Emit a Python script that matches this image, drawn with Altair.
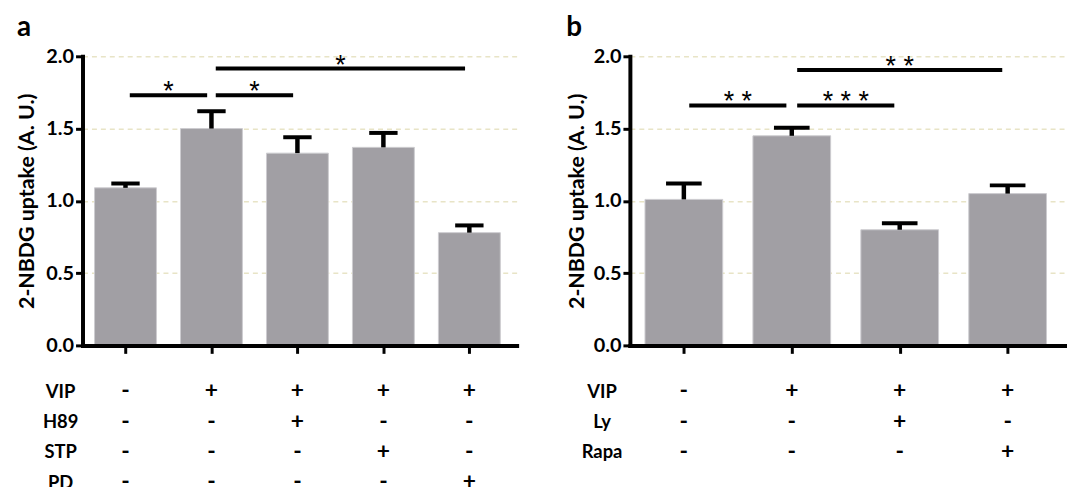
import altair as alt
import pandas as pd

FONT = "Lato"
STAR_FONT = "Liberation Sans"
BAR = "#a19fa4"

# ---------------- panel a ----------------
a_means = [1.09, 1.50, 1.33, 1.37, 0.78]
a_sem = [0.03, 0.12, 0.11, 0.10, 0.05]
a_rows = ["VIP", "H89", "STP", "PD"]
a_signs = [
    ["-", "+", "+", "+", "+"],
    ["-", "-", "+", "-", "-"],
    ["-", "-", "-", "+", "-"],
    ["-", "-", "-", "-", "+"],
]
a_cmp_from = [0, 1, 1]
a_cmp_to = [1, 2, 4]
a_cmp_level = [1.73, 1.73, 1.915]
a_cmp_label = ["*", "*", "*"]

# ---------------- panel b ----------------
b_means = [1.01, 1.45, 0.80, 1.05]
b_sem = [0.11, 0.055, 0.045, 0.057]
b_rows = ["VIP", "Ly", "Rapa"]
b_signs = [
    ["-", "+", "+", "+"],
    ["-", "-", "+", "-"],
    ["-", "-", "-", "+"],
]
b_cmp_from = [0, 1, 1]
b_cmp_to = [1, 2, 3]
b_cmp_level = [1.66, 1.66, 1.905]
b_cmp_label = ["**", "***", "**"]

Y_TICKS = [0, 0.5, 1.0, 1.5, 2.0]


def panel(tag, means, sem, rows, signs, cfrom, cto, clevel, clabel,
          width, height, row_pad, title_pad):
    n = len(means)
    xs = alt.Scale(domain=[-0.5, n - 0.45], nice=False, zero=False)
    ys = alt.Scale(domain=[0, 2], nice=False)
    xaxis = alt.Axis(values=list(range(n)), labels=False, tickSize=8, tickWidth=3,
                     tickColor="black", domainColor="black", domainWidth=4,
                     domainCap="square", grid=False, title=None, zindex=1)
    yaxis = alt.Axis(values=Y_TICKS, format=".1f", title="2-NBDG uptake (A. U.)",
                     titleFont=FONT, titleFontSize=21.5, titleFontWeight="bold",
                     titleColor="black", titlePadding=title_pad,
                     labelFont=FONT, labelFontSize=20, labelFontWeight="bold",
                     labelColor="black", labelPadding=2, tickSize=7, tickWidth=3,
                     tickColor="black", domainColor="black", domainWidth=4,
                     domainCap="square", grid=True, gridColor="#e8e4c6",
                     gridDash=[5, 4], gridWidth=1.5, zindex=0)

    df = pd.DataFrame({"pos": list(range(n)), "mean": means, "sem": sem})
    base = alt.Chart(df).transform_calculate(
        top="datum.mean + datum.sem",
        b1="datum.pos - 0.36", b2="datum.pos + 0.36",
        c1="datum.pos - 0.165", c2="datum.pos + 0.165", zero="0")

    bars = base.mark_bar(color=BAR, stroke="#cdccd0", strokeWidth=1).encode(
        x=alt.X("b1:Q", scale=xs, axis=xaxis), x2="b2:Q",
        y=alt.Y("mean:Q", scale=ys, axis=yaxis), y2="zero:Q")
    errv = base.mark_rule(color="black", strokeWidth=4.5).encode(
        x=alt.X("pos:Q", scale=xs, axis=xaxis),
        y=alt.Y("mean:Q", scale=ys, axis=yaxis), y2="top:Q")
    cap = base.mark_rule(color="black", strokeWidth=4).encode(
        x=alt.X("c1:Q", scale=xs, axis=xaxis), x2="c2:Q",
        y=alt.Y("top:Q", scale=ys, axis=yaxis))

    cdf = pd.DataFrame({"f": cfrom, "t": cto, "lvl": clevel,
                        "lab": [" ".join(list(s)) for s in clabel]})
    cbase = alt.Chart(cdf).transform_calculate(
        s1="datum.f + 0.05", s2="datum.t - 0.05", mid="(datum.f + datum.t) / 2")
    sig = cbase.mark_rule(color="black", strokeWidth=4).encode(
        x=alt.X("s1:Q", scale=xs, axis=xaxis), x2="s2:Q",
        y=alt.Y("lvl:Q", scale=ys, axis=yaxis))
    stars = cbase.mark_text(font=STAR_FONT, fontSize=27, color="black",
                            baseline="alphabetic", dy=5).encode(
        x=alt.X("mid:Q", scale=xs, axis=xaxis),
        y=alt.Y("lvl:Q", scale=ys, axis=yaxis), text="lab:N")

    top = alt.layer(bars, errv, cap, sig, stars).properties(
        width=width, height=height,
        title=alt.TitleParams(tag, anchor="start", frame="bounds", font=FONT,
                              fontSize=28, fontWeight="bold", color="black",
                              offset=4, dx=0))

    recs = []
    for r, row in enumerate(rows):
        for i in range(n):
            recs.append({"row": row, "pos": i, "sign": signs[r][i]})
    tdf = pd.DataFrame(recs)
    table = alt.Chart(tdf).mark_text(font=FONT, fontSize=23, fontWeight="bold",
                                     color="black").encode(
        x=alt.X("pos:Q", scale=xs, axis=None),
        y=alt.Y("row:N", sort=rows,
                axis=alt.Axis(title=None, domain=False, ticks=False, tickSize=0,
                              labelFont=FONT, labelFontSize=18.5,
                              labelFontWeight="bold", labelColor="black",
                              labelAlign="center", labelPadding=row_pad)),
        text="sign:N").properties(width=width, height=alt.Step(30.5))

    return top, table


top_a, table_a = panel("a", a_means, a_sem, a_rows, a_signs, a_cmp_from, a_cmp_to,
                       a_cmp_level, a_cmp_label, 437, 291, 22.5, 7)
top_b, table_b = panel("b", b_means, b_sem, b_rows, b_signs, b_cmp_from, b_cmp_to,
                       b_cmp_level, b_cmp_label, 440, 291, 28.5, 5)

chart = alt.concat(top_a, top_b, table_a, table_b, columns=2,
                   spacing={"row": 31, "column": 114}, bounds="flush").properties(
    padding={"left": 9, "top": 5, "right": 0, "bottom": 0}
).configure(font=FONT).configure_view(stroke=None, strokeWidth=0)

chart.save("out.html", embed_options={"renderer": "svg", "actions": False})
